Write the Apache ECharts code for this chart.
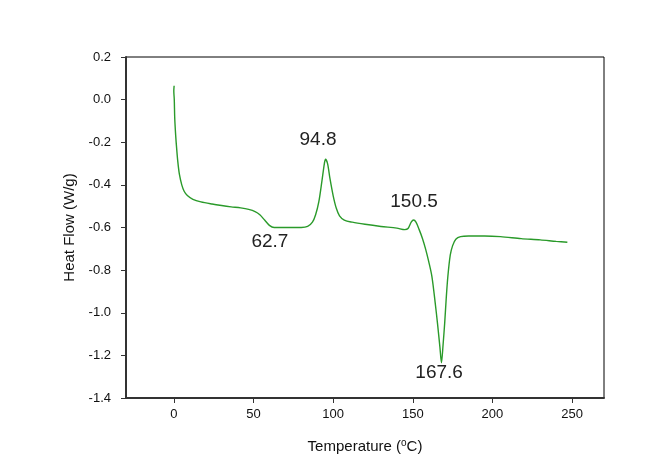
<!DOCTYPE html>
<html>
<head>
<meta charset="utf-8">
<script src="https://cdn.jsdelivr.net/npm/echarts@6/dist/echarts.min.js"></script>
<style>html,body{margin:0;padding:0;background:#fff;}#c{width:661px;height:471px;}</style>
</head>
<body>
<div id="c"></div>
<script>
// Temperature (°C)
var temperature = [0.2, 0.0, 0.3, 0.6, 1.2, 1.8, 2.5, 3.5, 5.0, 6.5, 8.5, 12, 17, 24, 30, 36, 42, 47, 51, 54, 57, 60, 63, 70, 80, 84, 87, 89, 91, 93, 94.5, 95.2, 96.5, 98, 100, 102, 104, 107, 112, 120, 130, 140, 145, 147, 149, 150.5, 152, 154, 156, 158, 160, 162, 164, 165.5, 167, 168, 169, 170, 171, 172, 173.5, 175, 177, 180, 185, 195, 205, 218, 230, 240, 247];
// Heat flow (W/g)
var heatFlow = [0.065, 0.04, 0.0, -0.09, -0.17, -0.23, -0.29, -0.35, -0.40, -0.43, -0.45, -0.468, -0.48, -0.49, -0.497, -0.503, -0.508, -0.515, -0.525, -0.54, -0.565, -0.59, -0.6, -0.6, -0.6, -0.595, -0.575, -0.54, -0.48, -0.38, -0.30, -0.28, -0.30, -0.37, -0.45, -0.51, -0.545, -0.565, -0.575, -0.585, -0.595, -0.603, -0.61, -0.605, -0.575, -0.565, -0.575, -0.61, -0.65, -0.70, -0.76, -0.83, -0.95, -1.05, -1.16, -1.235, -1.15, -1.05, -0.93, -0.83, -0.73, -0.685, -0.655, -0.643, -0.64, -0.64, -0.643, -0.652, -0.658, -0.665, -0.669];
// Peak annotations
var annoText = ['62.7', '94.8', '150.5', '167.6'];
var annoX = [60.3, 90.5, 150.8, 166.5];
var annoY = [-0.668, -0.186, -0.477, -1.28];
var xTicks = [0, 50, 100, 150, 200, 250];

var points = temperature.map(function (t, i) { return [t, heatFlow[i]]; });
var marks = annoText.map(function (s, i) {
  return { coord: [annoX[i], annoY[i]], value: s };
});

var chart = echarts.init(document.getElementById('c'), null, { renderer: 'canvas' });
chart.setOption({
  animation: false,
  backgroundColor: '#fff',
  grid: { left: 126, right: 57, top: 57, bottom: 73, show: true, borderColor: '#000', borderWidth: 1, backgroundColor: 'transparent' },
  xAxis: {
    type: 'value', min: -30, max: 270,
    name: 'Temperature ({sup|o}C)', nameLocation: 'middle', nameGap: 40,
    nameTextStyle: { fontFamily: 'Liberation Sans', fontSize: 15, color: '#111',
      rich: { sup: { fontSize: 10, verticalAlign: 'top', padding: [0, 0, 8, 0], fontFamily: 'Liberation Sans', color: '#111' } } },
    axisLine: { show: true, onZero: false, lineStyle: { color: '#333', width: 2 } },
    axisTick: { show: true, inside: false, length: 5, customValues: xTicks, lineStyle: { color: '#333', width: 1 } },
    axisLabel: { customValues: xTicks, margin: 10, fontFamily: 'Liberation Sans', fontSize: 13, color: '#111' },
    splitLine: { show: false }
  },
  yAxis: {
    type: 'value', min: -1.4, max: 0.2, interval: 0.2,
    name: 'Heat Flow (W/g)', nameLocation: 'middle', nameGap: 43,
    nameTextStyle: { fontFamily: 'Liberation Sans', fontSize: 15, color: '#111' },
    axisLine: { show: true, onZero: false, lineStyle: { color: '#333', width: 2 } },
    axisTick: { show: true, inside: false, length: 5, lineStyle: { color: '#333', width: 1 } },
    axisLabel: { margin: 15, fontFamily: 'Liberation Sans', fontSize: 13, color: '#111',
      formatter: function (v) { return v.toFixed(1); } },
    splitLine: { show: false }
  },
  series: [{
    type: 'line',
    data: points,
    showSymbol: false,
    smooth: 0.3,
    lineStyle: { color: '#2a9a2a', width: 1.4 },
    markPoint: {
      symbol: 'circle', symbolSize: 0,
      label: { show: true, position: 'inside', formatter: function (p) { return p.value; },
        fontFamily: 'Liberation Sans', fontSize: 19, color: '#222' },
      data: marks
    }
  }]
});
</script>
</body>
</html>
